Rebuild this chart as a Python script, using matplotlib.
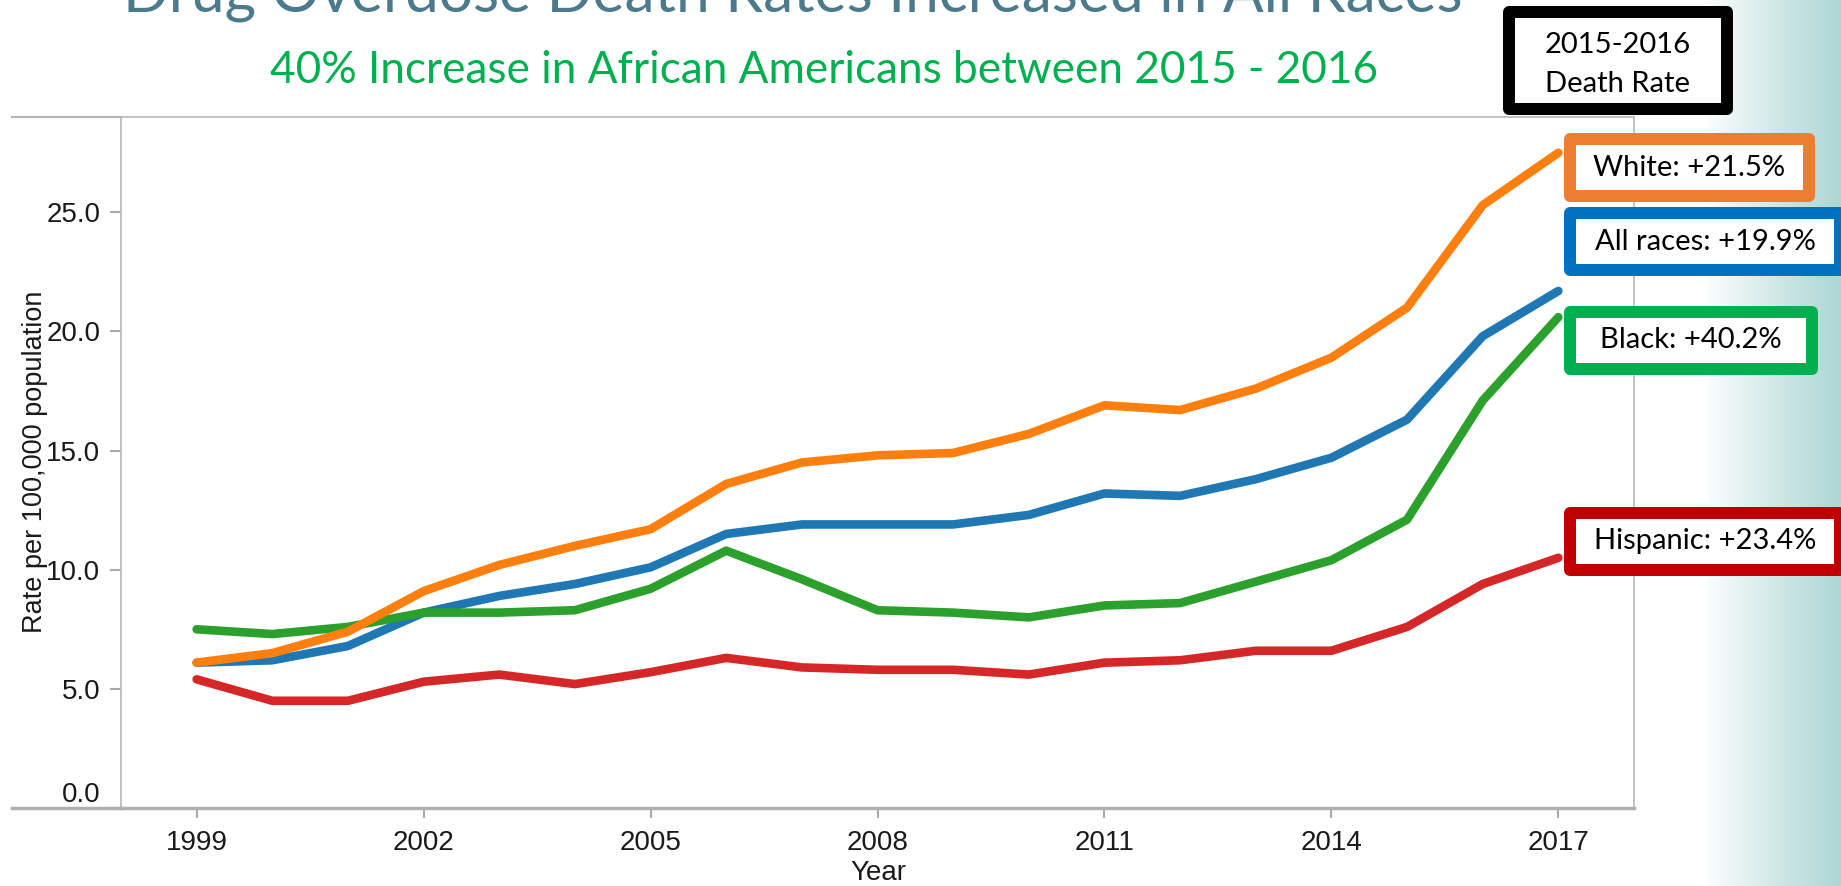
import numpy as np
import matplotlib
matplotlib.use("Agg")
import matplotlib.pyplot as plt
from matplotlib.patches import Rectangle

years = list(range(1999, 2018))
all_races = [6.1, 6.2, 6.8, 8.2, 8.9, 9.4, 10.1, 11.5, 11.9, 11.9, 11.9, 12.3, 13.2, 13.1, 13.8, 14.7, 16.3, 19.8, 21.7]
black = [7.5, 7.3, 7.6, 8.2, 8.2, 8.3, 9.2, 10.8, 9.6, 8.3, 8.2, 8.0, 8.5, 8.6, 9.5, 10.4, 12.1, 17.1, 20.6]
hispanic = [5.4, 4.5, 4.5, 5.3, 5.6, 5.2, 5.7, 6.3, 5.9, 5.8, 5.8, 5.6, 6.1, 6.2, 6.6, 6.6, 7.6, 9.4, 10.5]
white = [6.1, 6.5, 7.4, 9.1, 10.2, 11.0, 11.7, 13.6, 14.5, 14.8, 14.9, 15.7, 16.9, 16.7, 17.6, 18.9, 21.0, 25.3, 27.5]

series_names = ["All races", "Black", "Hispanic", "White"]
series_colors = ["#1f77b4", "#2ca02c", "#d62728", "#ff7f0e"]

x_ticks = [1999, 2002, 2005, 2008, 2011, 2014, 2017]
y_ticks = [0, 5, 10, 15, 20, 25]

box_labels = ["White: +21.5%", "All races: +19.9%", "Black: +40.2%", "Hispanic: +23.4%"]
box_colors = ["#ed7d31", "#0070c0", "#00b050", "#c00000"]

W, H = 1841, 886
fig = plt.figure(figsize=(W / 100, H / 100), dpi=100, facecolor="white")


def fx(px):
    return px / W


def fy(py):
    return 1 - py / H


# teal gradient strip on the right
bg = fig.add_axes([0, 0, 1, 1], zorder=0)
bg.axis("off")
xs = np.arange(W)
t = np.clip((xs - 1705) / (1841 - 1705), 0, 1) ** 0.9
teal = np.array([172, 214, 212]) / 255.0
row = (1 - t)[:, None] * np.ones(3) + t[:, None] * teal
img = np.repeat(row[None, :, :], 10, axis=0)
bg.imshow(img, aspect="auto", extent=[0, W, H, 0])
bg.set_xlim(0, W)
bg.set_ylim(H, 0)

# main chart
ax = fig.add_axes([fx(121), fy(808), (1634 - 121) / W, (808 - 117) / H], zorder=2)
ax.set_facecolor("white")
data = [all_races, black, hispanic, white]
for name, vals, col in zip(series_names, data, series_colors):
    ax.plot(years, vals, color=col, lw=6.2, solid_capstyle="round",
            solid_joinstyle="round", label=name)

ax.set_xlim(1998, 2018)
ax.set_ylim(0, 29)
ax.set_xticks(x_ticks)
ax.set_xticklabels([str(x) for x in x_ticks])
ax.set_yticks(y_ticks)
ax.set_yticklabels(["%.1f" % v for v in y_ticks])
ax.tick_params(axis="both", colors="#aaaaaa", labelcolor="#1a1a1a", width=1.5)
ax.tick_params(axis="y", length=8, pad=7, labelsize=20)
ax.tick_params(axis="x", length=7, pad=9, labelsize=20)
for lab in ax.get_xticklabels() + ax.get_yticklabels():
    lab.set_fontfamily("Liberation Sans")
ax.yaxis.get_major_ticks()[0].label1.set_verticalalignment("bottom")

for side in ["top", "left", "right"]:
    ax.spines[side].set_color("#bdbdbd")
    ax.spines[side].set_linewidth(1.3)
ax.spines["bottom"].set_color("#b0b0b0")
ax.spines["bottom"].set_linewidth(2.5)

fig.text(fx(35), fy(462), "Rate per 100,000 population", rotation=90,
         ha="center", va="center", fontsize=19.5, family="Liberation Sans",
         color="#1a1a1a")
fig.text(fx(878), fy(873), "Year", ha="center", va="center", fontsize=20,
         family="Liberation Sans", color="#1a1a1a")

# titles
fig.text(fx(793), fy(12), "Drug Overdose Death Rates Increased in All Races",
         ha="center", va="baseline", fontsize=43.5, family="Lato",
         color="#4a7a8c")
fig.text(fx(824), fy(83), "40% Increase in African Americans between 2015 - 2016",
         ha="center", va="baseline", fontsize=31.8, family="Lato",
         color="#00b050")

# overlay for frame extensions and callout boxes
ov = fig.add_axes([0, 0, 1, 1], zorder=3)
ov.axis("off")
ov.set_xlim(0, W)
ov.set_ylim(H, 0)
ov.plot([12, 121], [117, 117], color="#b5b5b5", lw=1.5)
ov.plot([12, 121], [808, 808], color="#b0b0b0", lw=2.5)

lw_px = 12
lw_pt = lw_px * 72 / 100


def callout(x0, y0, x1, y1, color, text, fs=21, ls=1.2, dy=0):
    ov.add_patch(Rectangle((x0 + lw_px / 2, y0 + lw_px / 2),
                           x1 - x0 - lw_px, y1 - y0 - lw_px,
                           facecolor="white", edgecolor=color, lw=lw_pt,
                           joinstyle="round", clip_on=False))
    ov.text((x0 + x1) / 2, (y0 + y1) / 2 + dy, text, ha="center", va="center",
            fontsize=fs, family="Lato", color="black", linespacing=ls)


callout(1503, 6, 1733, 115, "black", "2015-2016\nDeath Rate", fs=21, ls=1.6, dy=4)
box_pos = [(1564, 133, 1815, 202), (1564, 207, 1846, 276),
           (1564, 306, 1818, 375), (1564, 507, 1846, 576)]
for (x0, y0, x1, y1), col, lab in zip(box_pos, box_colors, box_labels):
    callout(x0, y0, x1, y1, col, lab)

fig.savefig("out.png", dpi=100, facecolor="white")
